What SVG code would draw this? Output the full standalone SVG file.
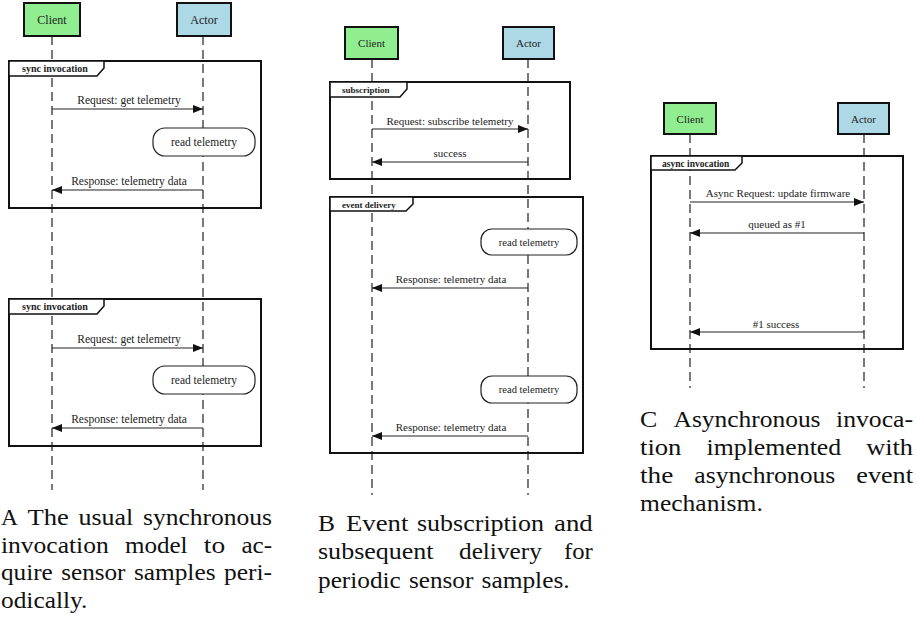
<svg xmlns="http://www.w3.org/2000/svg" width="916" height="620" viewBox="0 0 916 620">
<style>
text{font-family:"Liberation Serif","DejaVu Serif","Times New Roman",serif;fill:#222}
.client{fill:#90ee90;stroke:#111;stroke-width:2}
.actor{fill:#add8e6;stroke:#111;stroke-width:2}
.frame{fill:none;stroke:#111;stroke-width:2}
.tab{fill:#fff;stroke:#111;stroke-width:1.5}
.tabt{font-weight:bold;font-size:10px}
.act{fill:#fff;stroke:#222;stroke-width:1.2}
.life{stroke:#222;stroke-width:1.2;stroke-dasharray:9 5;fill:none}
.msg{stroke:#222;stroke-width:1.1;fill:none;marker-end:url(#ah)}
.lbl{font-size:11px;text-anchor:middle}
.nm{font-size:12px;text-anchor:middle}
.cap{font-size:24px;fill:#111}
</style>
<defs>
<marker id="ah" viewBox="0 0 10 8" refX="10" refY="4" markerWidth="10" markerHeight="8" markerUnits="userSpaceOnUse" orient="auto">
<path d="M0,0 L10,4 L0,8 Z" fill="#111"/>
</marker>
</defs>
<rect width="916" height="620" fill="#fff"/>

<!-- Diagram A -->
<g id="connectorsA">
<line class="life" x1="52" y1="36" x2="52" y2="490"/>
<line class="life" x1="203" y1="36" x2="203" y2="490"/>
</g>
<g id="A-frame1">
<rect class="frame" x="9" y="61" width="252" height="147"/>
<polygon class="tab" points="9,61 104,61 104,68 97,76 9,76"/>
<text class="tabt" x="22" y="72">sync invocation</text>
</g>
<g id="A-frame2">
<rect class="frame" x="9" y="299" width="252" height="147"/>
<polygon class="tab" points="9,299 104,299 104,306 97,314 9,314"/>
<text class="tabt" x="22" y="310">sync invocation</text>
</g>
<g id="A-client"><rect class="client" x="24" y="3" width="56" height="33"/><text class="nm" x="52" y="24">Client</text></g>
<g id="A-actor"><rect class="actor" x="177" y="3" width="54" height="33"/><text class="nm" x="204" y="24">Actor</text></g>
<g id="A-read1"><rect class="act" x="153" y="128" width="102" height="28" rx="12"/><text class="lbl" x="204" y="146" style="font-size:11.5px">read telemetry</text></g>
<g id="A-read2"><rect class="act" x="153" y="366" width="102" height="28" rx="12"/><text class="lbl" x="204" y="384" style="font-size:11.5px">read telemetry</text></g>
<g id="connectorsA-msgs">
<line class="msg" x1="52" y1="109" x2="203" y2="109"/>
<text class="lbl" x="129" y="104" style="font-size:11.5px">Request: get telemetry</text>
<line class="msg" x1="203" y1="190" x2="52" y2="190"/>
<text class="lbl" x="129" y="185" style="font-size:11.5px">Response: telemetry data</text>
<line class="msg" x1="52" y1="348" x2="203" y2="348"/>
<text class="lbl" x="129" y="343" style="font-size:11.5px">Request: get telemetry</text>
<line class="msg" x1="203" y1="428" x2="52" y2="428"/>
<text class="lbl" x="129" y="423" style="font-size:11.5px">Response: telemetry data</text>
</g>
<g id="captionA">
<text class="cap" x="1" y="525" textLength="17" lengthAdjust="spacingAndGlyphs">A</text>
<text class="cap" x="27.6" y="525" textLength="41.3" lengthAdjust="spacingAndGlyphs">The</text>
<text class="cap" x="78.5" y="525" textLength="54.8" lengthAdjust="spacingAndGlyphs">usual</text>
<text class="cap" x="143" y="525" textLength="129" lengthAdjust="spacingAndGlyphs">synchronous</text>
<text class="cap" x="1" y="553" textLength="107.7" lengthAdjust="spacingAndGlyphs">invocation</text>
<text class="cap" x="124.9" y="553" textLength="62.7" lengthAdjust="spacingAndGlyphs">model</text>
<text class="cap" x="203.8" y="553" textLength="21.3" lengthAdjust="spacingAndGlyphs">to</text>
<text class="cap" x="241.4" y="553" textLength="30.6" lengthAdjust="spacingAndGlyphs">ac-</text>
<text class="cap" x="1" y="580" textLength="51.8" lengthAdjust="spacingAndGlyphs">quire</text>
<text class="cap" x="61.2" y="580" textLength="64.3" lengthAdjust="spacingAndGlyphs">sensor</text>
<text class="cap" x="133.9" y="580" textLength="81.6" lengthAdjust="spacingAndGlyphs">samples</text>
<text class="cap" x="223.9" y="580" textLength="48.1" lengthAdjust="spacingAndGlyphs">peri-</text>
<text class="cap" x="1" y="608" textLength="86.4" lengthAdjust="spacingAndGlyphs">odically.</text>
</g>

<!-- Diagram B -->
<g id="connectorsB">
<line class="life" x1="372" y1="59" x2="372" y2="495"/>
<line class="life" x1="528" y1="59" x2="528" y2="495"/>
</g>
<g id="B-frame1">
<rect class="frame" x="330" y="82" width="240" height="97"/>
<polygon class="tab" points="330,82 407,82 407,89 400,97 330,97"/>
<text class="tabt" x="342" y="93" style="font-size:9px">subscription</text>
</g>
<g id="B-frame2">
<rect class="frame" x="330" y="197" width="253" height="256"/>
<polygon class="tab" points="330,197 413,197 413,204 406,211 330,211"/>
<text class="tabt" x="342" y="208" style="font-size:9px">event delivery</text>
</g>
<g id="B-client"><rect class="client" x="345" y="27" width="53" height="32"/><text class="nm" x="371.5" y="47" style="font-size:11px">Client</text></g>
<g id="B-actor"><rect class="actor" x="503" y="27" width="51" height="32"/><text class="nm" x="528.5" y="47" style="font-size:11px">Actor</text></g>
<g id="B-read1"><rect class="act" x="481" y="229" width="96" height="26" rx="11"/><text class="lbl" x="529" y="246" style="font-size:10.5px">read telemetry</text></g>
<g id="B-read2"><rect class="act" x="481" y="376" width="96" height="27" rx="11"/><text class="lbl" x="529" y="393" style="font-size:10.5px">read telemetry</text></g>
<g id="connectorsB-msgs">
<line class="msg" x1="372" y1="129" x2="528" y2="129"/>
<text class="lbl" x="450" y="125">Request: subscribe telemetry</text>
<line class="msg" x1="528" y1="162" x2="372" y2="162"/>
<text class="lbl" x="450" y="157">success</text>
<line class="msg" x1="528" y1="288" x2="372" y2="288"/>
<text class="lbl" x="451" y="283">Response: telemetry data</text>
<line class="msg" x1="528" y1="436" x2="372" y2="436"/>
<text class="lbl" x="451" y="431">Response: telemetry data</text>
</g>
<g id="captionB">
<text class="cap" x="318" y="531" textLength="17" lengthAdjust="spacingAndGlyphs">B</text>
<text class="cap" x="346" y="531" textLength="62.4" lengthAdjust="spacingAndGlyphs">Event</text>
<text class="cap" x="417" y="531" textLength="127" lengthAdjust="spacingAndGlyphs">subscription</text>
<text class="cap" x="554" y="531" textLength="38.7" lengthAdjust="spacingAndGlyphs">and</text>
<text class="cap" x="318" y="559" textLength="115.6" lengthAdjust="spacingAndGlyphs">subsequent</text>
<text class="cap" x="459" y="559" textLength="82.8" lengthAdjust="spacingAndGlyphs">delivery</text>
<text class="cap" x="564" y="559" textLength="28.8" lengthAdjust="spacingAndGlyphs">for</text>
<text class="cap" x="318" y="588" textLength="82.8" lengthAdjust="spacingAndGlyphs">periodic</text>
<text class="cap" x="409" y="588" textLength="64.3" lengthAdjust="spacingAndGlyphs">sensor</text>
<text class="cap" x="481.5" y="588" textLength="88.2" lengthAdjust="spacingAndGlyphs">samples.</text>
</g>

<!-- Diagram C -->
<g id="connectorsC">
<line class="life" x1="690" y1="134" x2="690" y2="388"/>
<line class="life" x1="864" y1="134" x2="864" y2="388"/>
</g>
<g id="C-frame">
<rect class="frame" x="651" y="156" width="252" height="193"/>
<polygon class="tab" points="651,156 742,156 742,163 735,170 651,170"/>
<text class="tabt" x="662" y="167" style="font-size:9.5px">async invocation</text>
</g>
<g id="C-client"><rect class="client" x="664" y="103" width="52" height="31"/><text class="nm" x="690" y="123" style="font-size:11px">Client</text></g>
<g id="C-actor"><rect class="actor" x="838" y="103" width="51" height="31"/><text class="nm" x="863.5" y="123" style="font-size:11px">Actor</text></g>
<g id="connectorsC-msgs">
<line class="msg" x1="690" y1="202" x2="864" y2="202"/>
<text class="lbl" x="778" y="197">Async Request: update firmware</text>
<line class="msg" x1="864" y1="233" x2="690" y2="233"/>
<text class="lbl" x="777" y="228">queued as #1</text>
<line class="msg" x1="864" y1="332" x2="690" y2="332"/>
<text class="lbl" x="776" y="328">#1 success</text>
</g>
<g id="captionC">
<text class="cap" x="640" y="427" textLength="17.3" lengthAdjust="spacingAndGlyphs">C</text>
<text class="cap" x="673.5" y="427" textLength="147" lengthAdjust="spacingAndGlyphs">Asynchronous</text>
<text class="cap" x="836" y="427" textLength="77" lengthAdjust="spacingAndGlyphs">invoca-</text>
<text class="cap" x="640" y="455" textLength="41.4" lengthAdjust="spacingAndGlyphs">tion</text>
<text class="cap" x="706.5" y="455" textLength="134.7" lengthAdjust="spacingAndGlyphs">implemented</text>
<text class="cap" x="866.3" y="455" textLength="46.7" lengthAdjust="spacingAndGlyphs">with</text>
<text class="cap" x="640" y="483" textLength="33.3" lengthAdjust="spacingAndGlyphs">the</text>
<text class="cap" x="694.3" y="483" textLength="141" lengthAdjust="spacingAndGlyphs">asynchronous</text>
<text class="cap" x="856.3" y="483" textLength="56.7" lengthAdjust="spacingAndGlyphs">event</text>
<text class="cap" x="640" y="511" textLength="122.8" lengthAdjust="spacingAndGlyphs">mechanism.</text>
</g>
</svg>
